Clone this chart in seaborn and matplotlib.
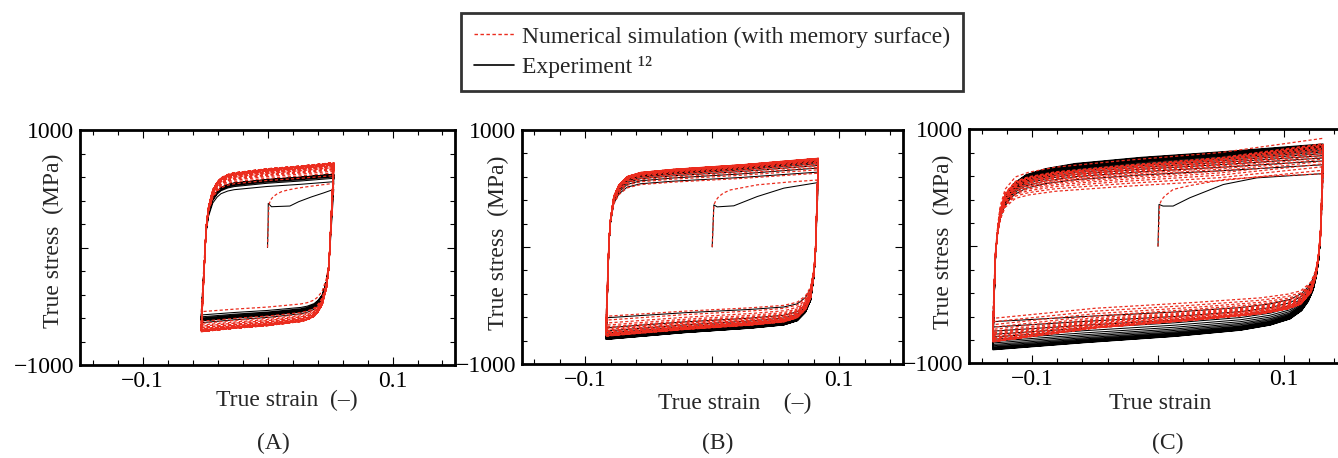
import numpy as np
import pandas as pd
import matplotlib
matplotlib.use("Agg")
import matplotlib.pyplot as plt
from matplotlib.lines import Line2D
from matplotlib.ticker import MultipleLocator, FixedLocator, FuncFormatter
import seaborn as sns

# ---- values ----
# strain amplitude of each test (A, B, C)
A_amp, B_amp, C_amp = 0.053, 0.0835, 0.131

# normalised branch shape (fraction of strain range -> fraction of stress range)
A_u = [0, 0.006, 0.012, 0.025, 0.037, 0.055, 0.087, 0.12, 0.149, 0.2, 0.248, 0.496, 0.744, 1.0]
A_s = [0, 0.10, 0.21, 0.41, 0.62, 0.74, 0.84, 0.885, 0.91, 0.93, 0.94, 0.964, 0.98, 1.0]
B_u = [0, 0.007, 0.013, 0.02, 0.036, 0.06, 0.099, 0.162, 0.319, 0.634, 1.0]
B_s = [0, 0.28, 0.52, 0.65, 0.785, 0.85, 0.897, 0.92, 0.938, 0.963, 1.0]
C_exp_u = [0, 0.004, 0.008, 0.013, 0.02, 0.03, 0.045, 0.065, 0.1, 0.16, 0.25, 0.45, 0.72, 1.0]
C_exp_s = [0, 0.25, 0.45, 0.56, 0.64, 0.71, 0.765, 0.81, 0.85, 0.88, 0.905, 0.935, 0.965, 1.0]
C_sim_u = [0, 0.004, 0.008, 0.015, 0.022, 0.037, 0.068, 0.108, 0.189, 0.39, 0.69, 1.0]
C_sim_s = [0, 0.25, 0.45, 0.58, 0.667, 0.75, 0.81, 0.833, 0.858, 0.89, 0.93, 1.0]

# first (monotonic) loading
A_sim_first_x = [0, 0.0005, 0.0011, 0.0025, 0.0045, 0.0075, 0.0112, 0.0165, 0.0233, 0.035, 0.053]
A_sim_first_y = [0, 180, 362, 405, 432, 455, 475, 490, 504, 522, 546]
A_exp_first_x = [0, 0.0005, 0.0006, 0.0032, 0.0179, 0.025, 0.035, 0.045, 0.053]
A_exp_first_y = [0, 200, 376, 347, 353, 390, 430, 465, 495]
B_sim_first_x = [0, 0.0013, 0.003, 0.0052, 0.009, 0.0144, 0.0354, 0.06, 0.0835]
B_sim_first_y = [0, 360, 400, 431, 462, 488, 531, 555, 573]
B_exp_first_x = [0, 0.0013, 0.0039, 0.017, 0.0354, 0.0564, 0.0835]
B_exp_first_y = [0, 360, 343, 352, 431, 503, 551]
C_sim_first_x = [0, 0.0013, 0.003, 0.0053, 0.012, 0.0253, 0.0518, 0.09, 0.131]
C_sim_first_y = [0, 358, 400, 429, 486, 519, 570, 600, 620]
C_exp_first_x = [0, 0.0008, 0.004, 0.012, 0.0253, 0.0518, 0.0784, 0.131]
C_exp_first_y = [0, 358, 344, 344, 415, 528, 585, 621]

# peak stresses per cycle (MPa)
A_sim_tens = [546, 612, 634, 650, 662, 672, 680, 687, 693, 698, 702, 706, 709, 712, 714, 716, 718, 720, 721, 722]
A_sim_comp = [-546, -628, -646, -660, -670, -679, -686, -692, -697, -701, -704, -707, -709, -711, -712, -713, -714, -715, -716, -716]
A_exp_tens = [495, 560, 589, 600, 608, 613, 617, 620, 622, 624]
A_exp_comp = [-574, -590, -600, -607, -612, -616, -619, -622, -624, -640]
B_sim_tens = [573, 631, 660, 680, 695, 707, 717, 725, 731, 736, 741, 745, 748, 751, 753, 755, 756, 757, 758, 758]
B_sim_comp = [-592, -625, -650, -668, -683, -695, -705, -714, -721, -728, -734, -739, -743, -747, -750, -753, -756, -758, -760, -762]
B_exp_tens = [551, 640, 675, 697, 712, 723, 732, 739, 744, 748, 751, 753, 755, 756]
B_exp_comp = [-605, -690, -718, -735, -748, -758, -766, -772, -777, -781, -784, -787, -789, -790]
C_sim_tens = [620, 650, 680, 705, 727, 746, 763, 778, 791, 803, 814, 824, 833, 841, 849, 856, 863, 870, 877, 923]
C_sim_comp = [-616, -645, -670, -692, -710, -726, -740, -752, -763, -773, -782, -790, -797, -803, -808, -812, -814, -815, -816]
C_exp_tens = [621, 697, 730, 755, 775, 792, 806, 818, 829, 839, 848, 856, 863, 869, 875]
C_exp_comp = [-644, -690, -725, -752, -775, -795, -812, -826, -839, -850, -860, -868, -876, -882, -885]

RED = "#eb2c1e"


def build_path(first_x, first_y, tens, comp, amp, u, s):
    # chain the first loading and the reversal branches into one strain-stress path
    u = np.asarray(u)
    s = np.asarray(s)
    xs = [np.asarray(first_x, float)]
    ys = [np.asarray(first_y, float)]
    for i, c in enumerate(comp):
        top = tens[i]
        xs.append(amp - 2 * amp * u)
        ys.append(top + (c - top) * s)
        if i + 1 < len(tens):
            xs.append(-amp + 2 * amp * u)
            ys.append(c + (tens[i + 1] - c) * s)
    return pd.DataFrame({"strain": np.concatenate(xs), "stress": np.concatenate(ys)})


panels = [
    dict(label="(A)", xlabel="True strain  (–)",
         sim=build_path(A_sim_first_x, A_sim_first_y, A_sim_tens, A_sim_comp, A_amp, A_u, A_s),
         exp=build_path(A_exp_first_x, A_exp_first_y, A_exp_tens, A_exp_comp, A_amp, A_u, A_s),
         pos=[80, 365, 375, 235], xl=(0.552, -0.105), yl=(-0.043, 0.53), lx=273),
    dict(label="(B)", xlabel="True strain    (–)",
         sim=build_path(B_sim_first_x, B_sim_first_y, B_sim_tens, B_sim_comp, B_amp, B_u, B_s),
         exp=build_path(B_exp_first_x, B_exp_first_y, B_exp_tens, B_exp_comp, B_amp, B_u, B_s),
         pos=[521.7, 364, 381, 234], xl=(0.56, -0.125), yl=(-0.033, 0.52), lx=718),
    dict(label="(C)", xlabel="True strain",
         sim=build_path(C_sim_first_x, C_sim_first_y, C_sim_tens, C_sim_comp, C_amp, C_sim_u, C_sim_s),
         exp=build_path(C_exp_first_x, C_exp_first_y, C_exp_tens, C_exp_comp, C_amp, C_exp_u, C_exp_s),
         pos=[969, 363.3, 378, 234], xl=(0.505, -0.125), yl=(-0.04, 0.52), lx=1168),
]

sns.set_theme(style="ticks")
plt.rcParams["font.family"] = ["Liberation Serif", "DejaVu Serif"]
FS = 17

W, H = 1338, 458
fig = plt.figure(figsize=(W / 100, H / 100), dpi=100)


def fmt(v, pos):
    if abs(v) < 1e-9:
        return ""
    return ("%g" % v).replace("-", "\u2212")


for p in panels:
    l, b, w, h = p["pos"]
    ax = fig.add_axes([l / W, (H - b) / H, w / W, h / H])
    sns.lineplot(data=p["exp"], x="strain", y="stress", estimator=None, sort=False,
                 color="black", lw=0.75, ax=ax)
    sns.lineplot(data=p["sim"], x="strain", y="stress", estimator=None, sort=False,
                 color=RED, lw=0.9, linestyle=(0, (2.5, 1.8)), ax=ax)
    ax.set_xlim(-0.15, 0.15)
    ax.set_ylim(-1000, 1000)
    ax.xaxis.set_major_locator(FixedLocator([-0.1, 0, 0.1]))
    ax.xaxis.set_minor_locator(MultipleLocator(0.02))
    ax.yaxis.set_major_locator(FixedLocator([-1000, 0, 1000]))
    ax.yaxis.set_minor_locator(MultipleLocator(200))
    ax.xaxis.set_major_formatter(FuncFormatter(fmt))
    ax.yaxis.set_major_formatter(FuncFormatter(fmt))
    ax.tick_params(which="both", direction="in", top=True, right=True,
                   labelsize=FS, colors="black", width=0.8)
    ax.tick_params(which="major", length=6, pad=4)
    ax.tick_params(which="minor", length=3.5)
    for sp in ax.spines.values():
        sp.set_linewidth(2.0)
        sp.set_color("black")
    ax.set_xlabel(p["xlabel"], fontsize=FS)
    ax.set_ylabel("True stress  (MPa)", fontsize=FS)
    ax.xaxis.set_label_coords(*p["xl"])
    ax.yaxis.set_label_coords(*p["yl"])
    fig.text(p["lx"] / W, 1 - 443 / H, p["label"], ha="center", va="center", fontsize=FS)

handles = [Line2D([], [], color=RED, lw=1.0, linestyle=(0, (2.5, 1.8))),
           Line2D([], [], color="black", lw=1.2)]
leg = fig.legend(handles, ["Numerical simulation (with memory surface)", "Experiment \u00b9\u00b2"],
                 loc="upper center", bbox_to_anchor=(712 / W, 1 - 13 / H), fontsize=FS,
                 frameon=True, fancybox=False, edgecolor="black", handlelength=1.7,
                 handletextpad=0.35, labelspacing=0.35, borderpad=0.55, borderaxespad=0)
leg.get_frame().set_linewidth(2.0)

fig.savefig("out.png", dpi=100)
